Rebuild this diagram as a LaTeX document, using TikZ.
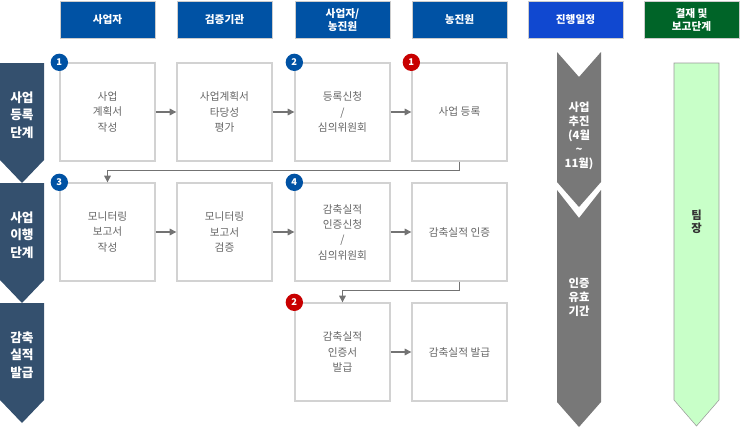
\documentclass[tikz,border=0pt]{standalone}
\usepackage{fontspec}
\setmainfont{Noto Sans CJK KR}
\usetikzlibrary{arrows.meta}
\definecolor{hdblue}{RGB}{0,82,164}
\definecolor{hdbright}{RGB}{16,72,208}
\definecolor{hdgreen}{RGB}{0,100,40}
\definecolor{stage}{RGB}{52,80,110}
\definecolor{sched}{RGB}{120,120,120}
\definecolor{report}{RGB}{200,255,200}
\definecolor{step}{RGB}{210,210,210}
\definecolor{stepred}{RGB}{200,0,0}
\tikzset{
  header/.style={fill=#1, draw=gray!40, text=white, font=\bfseries\fontsize{8}{10}\selectfont, align=center, minimum width=71.25pt, minimum height=27.75pt, inner sep=0pt},
  stepbox/.style={draw=step, fill=white, line width=1pt, text=gray!80!black, font=\fontsize{8}{11.5}\selectfont, align=center, minimum width=71.25pt, minimum height=73.5pt, inner sep=0pt},
  badge/.style={circle, fill=#1, text=white, font=\bfseries\fontsize{7}{8}\selectfont, minimum size=13pt, inner sep=0pt},
  link/.style={draw=gray!90!black, line width=0.8pt, -{Triangle[length=5pt,width=5pt]}},
}
\begin{document}
\begin{tikzpicture}[x=0.75pt,y=0.75pt,yscale=-1,xscale=1]
\useasboundingbox (0,0) rectangle (740,429);

% headers
\node[header=hdblue] (h1) at (107.5,20) {사업자};
\node[header=hdblue] (h2) at (224.5,20) {검증기관};
\node[header=hdblue] (h3) at (342.5,20) {사업자/\\농진원};
\node[header=hdblue] (h4) at (459.5,20) {농진원};
\node[header=hdbright] (h5) at (575.5,20) {진행일정};
\node[header=hdgreen] (h6) at (691.5,20) {결재 및\\보고단계};

% stage arrows
\foreach \y/\t in {63/사업\\등록\\단계, 183/사업\\이행\\단계, 303/감축\\실적\\발급}{
  \fill[stage] (0,\y) -- (44,\y) -- (44,\y+97) -- (22,\y+120) -- (0,\y+97) -- cycle;
  \node[text=white, font=\bfseries\fontsize{9.5}{13}\selectfont, align=center] at (22,\y+52) {\t};
}

% schedule
\fill[sched] (557,52) -- (579,77) -- (601,52) -- (601,182) -- (579,207) -- (557,182) -- cycle;
\fill[sched] (557,190) -- (579,218) -- (601,190) -- (601,402) -- (579,427) -- (557,402) -- cycle;
\node[text=white, font=\bfseries\fontsize{8.5}{10.5}\selectfont, align=center] at (579,136) {사업\\추진\\(4월\\\textasciitilde\\11월)};
\node[text=white, font=\bfseries\fontsize{8.5}{10.5}\selectfont, align=center] at (579,297) {인증\\유효\\기간};

% report
\draw[fill=report, draw=gray!80] (674,63) -- (719,63) -- (719,400) -- (696.5,426) -- (674,400) -- cycle;
\node[text=gray!40!black, font=\bfseries\fontsize{8.5}{10}\selectfont, align=center] at (696.5,222) {팀\\장};

% steps
\node[stepbox] (a1) at (107.5,112) {사업\\계획서\\작성};
\node[stepbox] (a2) at (224.5,112) {사업계획서\\타당성\\평가};
\node[stepbox] (a3) at (342.5,112) {등록신청\\/\\심의위원회};
\node[stepbox] (a4) at (459.5,112) {사업 등록};
\node[stepbox] (b1) at (107.5,232) {모니터링\\보고서\\작성};
\node[stepbox] (b2) at (224.5,232) {모니터링\\보고서\\검증};
\node[stepbox] (b3) at (342.5,232) {감축실적\\인증신청\\/\\심의위원회};
\node[stepbox] (b4) at (459.5,232) {감축실적 인증};
\node[stepbox] (c3) at (342.5,352) {감축실적\\인증서\\발급};
\node[stepbox] (c4) at (459.5,352) {감축실적 발급};

% badges
\node[badge=hdblue] at (a1.north west) {1};
\node[badge=hdblue] at (a3.north west) {2};
\node[badge=stepred] at (a4.north west) {1};
\node[badge=hdblue] at (b1.north west) {3};
\node[badge=hdblue] at (b3.north west) {4};
\node[badge=stepred] at (c3.north west) {2};

% connectors
\draw[link] (a1) -- (a2);
\draw[link] (a2) -- (a3);
\draw[link] (a3) -- (a4);
\draw[link] (b1) -- (b2);
\draw[link] (b2) -- (b3);
\draw[link] (b3) -- (b4);
\draw[link] (c3) -- (c4);
\draw[link] (a4.south) -- ++(0,9) -| (b1.north);
\draw[link] (b4.south) -- ++(0,9) -| (c3.north);
\end{tikzpicture}
\end{document}
